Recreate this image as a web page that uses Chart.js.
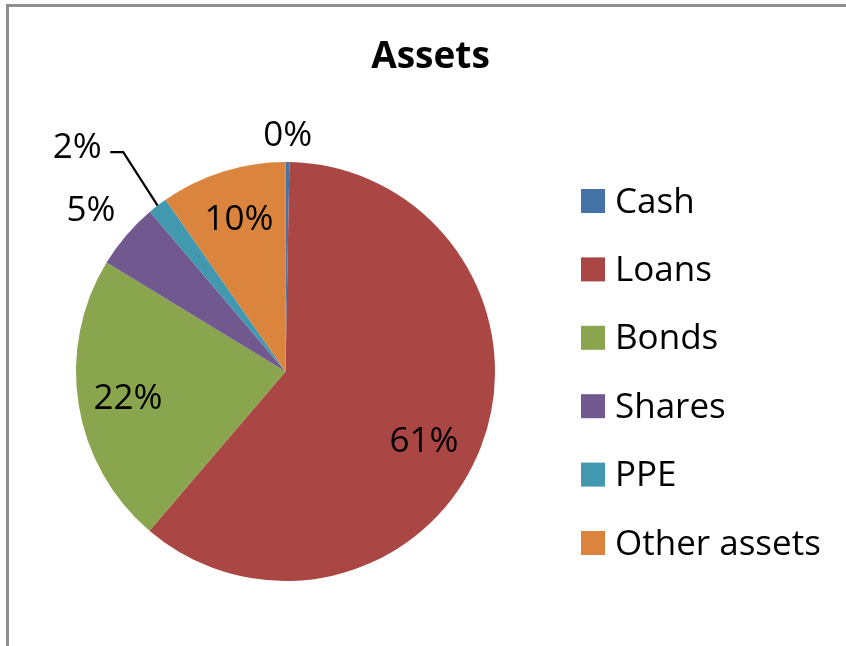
<html>
  <head>
    <script src="https://cdn.jsdelivr.net/npm/chart.js@4.4.1/dist/chart.umd.min.js"></script>
    <title>Assets</title>
    <style>
      body { margin:0; background:#fff; overflow:hidden; }
      #chart { position:absolute; left:0; top:0; }
      #frame { position:absolute; left:6px; top:4px; width:837px; height:639px;
               border-top:3px solid #8e8e8e; border-left:3px solid #8e8e8e; }
    </style>
  </head>
  <body>
    <canvas id="chart" width="846" height="646"></canvas>
    <div id="frame"></div>

  <script>
    // data (share of total assets, %)
    var categories = ["Cash", "Loans", "Bonds", "Shares", "PPE", "Other assets"];
    var shares = [0.3, 60.95, 22.45, 5.1, 1.5, 9.7];
    var colors = ["#4572A7", "#AA4643", "#89A54E", "#71588F", "#4198AF", "#DB843D"];
    var title = "Assets";

    // where each % label sits: r = fraction of radius, da = angle nudge in degrees
    var labelPos = [
      {r: 1.138, da: 0},
      {r: 0.737, da: 5.4},
      {r: 0.761, da: 0},
      {r: 1.21, da: -0.6},
      {r: 1.468, da: -5, leader: true},
      {r: 0.77, da: 0.7}
    ];

    var textPlugin = {
      id: 'excelText',
      afterDraw: function(chart) {
        var ctx = chart.ctx;
        var meta = chart.getDatasetMeta(0);
        var total = shares.reduce(function(a, b) { return a + b; }, 0);
        ctx.save();

        // title
        ctx.fillStyle = '#000';
        ctx.font = 'bold 37px "Open Sans"';
        ctx.textAlign = 'center';
        ctx.textBaseline = 'alphabetic';
        ctx.fillText(title, 430.5, 68);

        // percentage labels
        ctx.font = '35px "Open Sans"';
        for (var i = 0; i < meta.data.length; i++) {
          var arc = meta.data[i];
          var p = labelPos[i];
          var mid = (arc.startAngle + arc.endAngle) / 2 + p.da * Math.PI / 180;
          var R = arc.outerRadius;
          var x = arc.x + Math.cos(mid) * R * p.r;
          var y = arc.y + Math.sin(mid) * R * p.r;
          var txt = Math.round(shares[i] / total * 100) + '%';
          ctx.fillStyle = '#000';
          ctx.fillText(txt, x, y + 12.5);
          if (p.leader) {
            var m = (arc.startAngle + arc.endAngle) / 2;
            ctx.strokeStyle = '#000';
            ctx.lineWidth = 2.2;
            ctx.beginPath();
            ctx.moveTo(arc.x + Math.cos(m) * R, arc.y + Math.sin(m) * R);
            ctx.lineTo(x + 46, y + 7);
            ctx.lineTo(x + 33, y + 7);
            ctx.stroke();
          }
        }

        // legend
        ctx.textAlign = 'left';
        ctx.font = '35px "Open Sans"';
        for (var j = 0; j < categories.length; j++) {
          var top = 189 + j * 68.4;
          ctx.fillStyle = colors[j];
          ctx.fillRect(581, top, 24, 24);
          ctx.fillStyle = '#000';
          ctx.fillText(categories[j], 615, top + 23.5);
        }
        ctx.restore();
      }
    };

    new Chart(document.getElementById('chart'), {
      type: 'pie',
      data: {
        labels: categories,
        datasets: [{
          data: shares,
          backgroundColor: colors,
          borderWidth: 0
        }]
      },
      options: {
        responsive: false,
        animation: false,
        layout: { padding: { left: 76, right: 351, top: 162, bottom: 65 } },
        plugins: {
          legend: { display: false },
          tooltip: { enabled: false }
        }
      },
      plugins: [textPlugin]
    });
  </script>
  </body>
</html>
